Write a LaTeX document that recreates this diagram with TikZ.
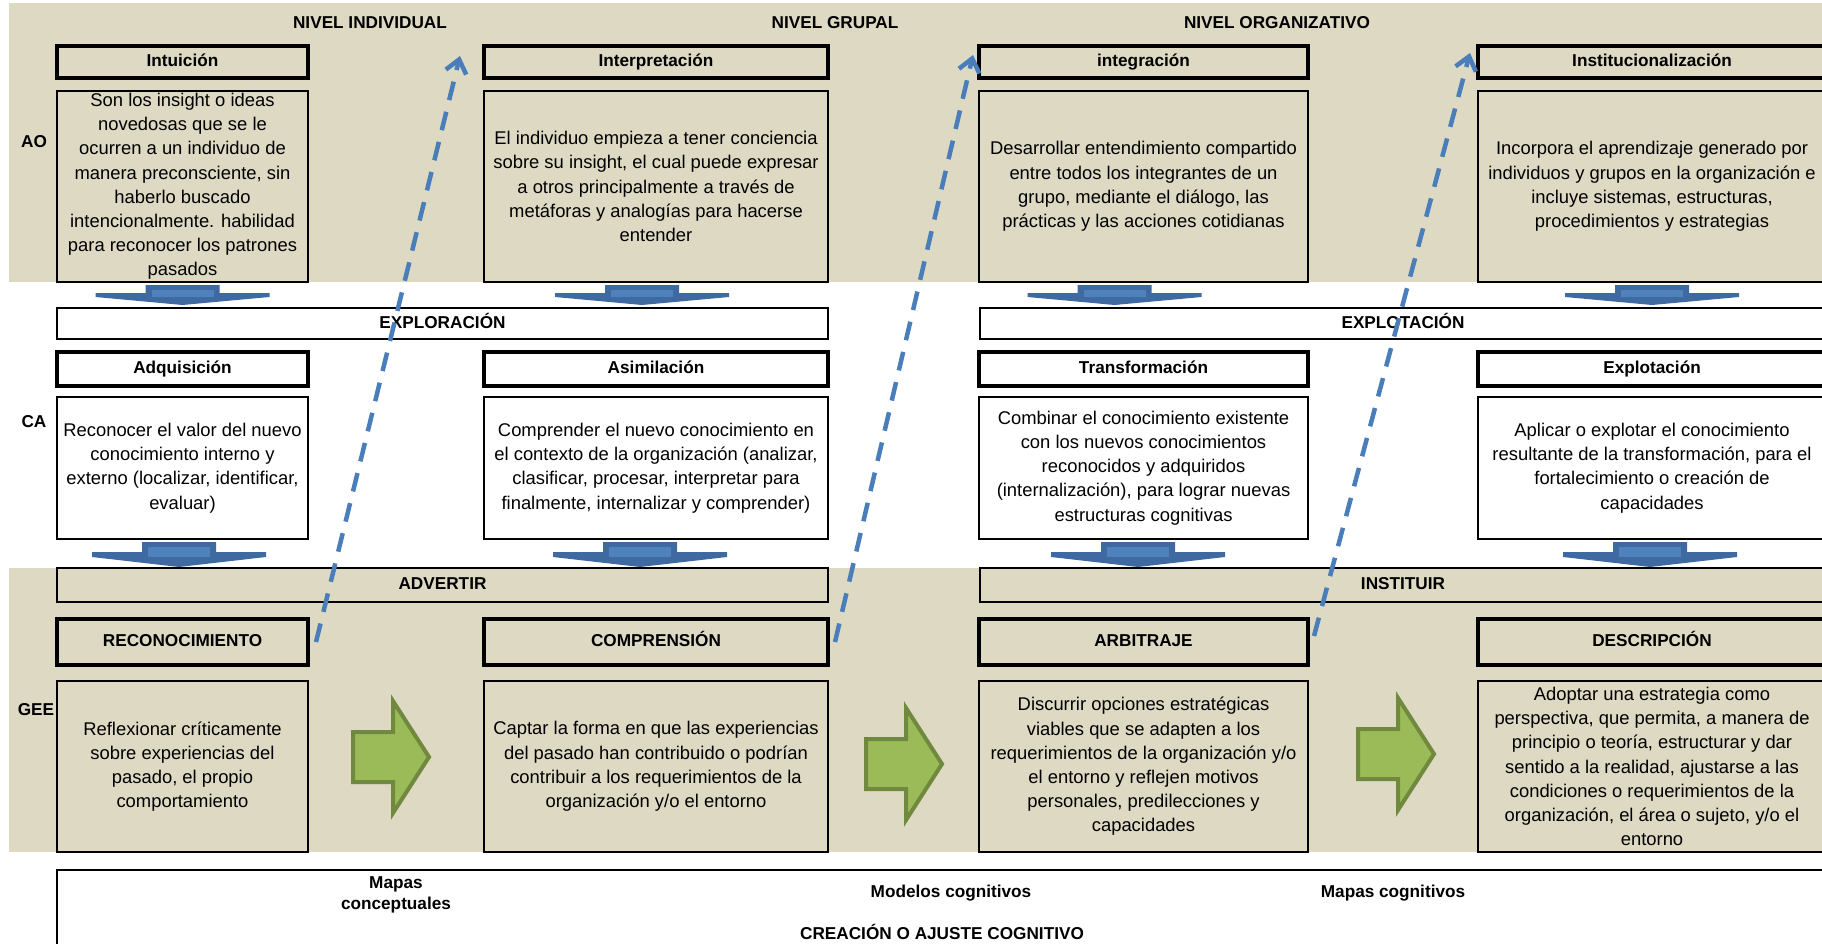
\documentclass[tikz,border=0pt]{standalone}
\usepackage{fontspec}
\setmainfont{Liberation Sans}
\usetikzlibrary{arrows.meta}

\definecolor{beige}{HTML}{DDD9C3}
\definecolor{flowblue}{HTML}{4A7EBB}
\definecolor{arrdark}{HTML}{3E6AA1}
\definecolor{arrlight}{HTML}{4F81BD}
\definecolor{greenfill}{HTML}{9BBB59}
\definecolor{greenline}{HTML}{71893F}

\newcommand{\myhdr}{\fontsize{17.2}{20.6}\selectfont\bfseries}
\newcommand{\mybody}{\fontsize{18.4}{24.2}\selectfont}

% block arrow pointing down: centre x, shaft top, wing top, wing corner, tip
\newcommand{\blockdown}[5]{%
  \fill[arrdark] (#1-37,#2) -- (#1+37,#2) -- (#1+37,#3) -- (#1+87,#3)
    -- (#1+87,#4) -- (#1,#5) -- (#1-87,#4) -- (#1-87,#3) -- (#1-37,#3) -- cycle;
  \fill[arrlight] (#1-31,#2+5) rectangle (#1+31,#4);}

% green block arrow pointing right: left x, centre y
\newcommand{\greenright}[2]{%
  \filldraw[fill=greenfill, draw=greenline, line width=4pt, line join=miter]
    (#1+2,#2-25) -- (#1+42,#2-25) -- (#1+42,#2-56) -- (#1+78,#2)
    -- (#1+42,#2+56) -- (#1+42,#2+25) -- (#1+2,#2+25) -- cycle;}

\begin{document}
\begin{tikzpicture}[x=1pt,y=-1pt,
  hdr/.style={draw, line width=3.3pt, font=\myhdr, inner sep=0pt,
    text height=12.3pt, text depth=3pt},
  body/.style={draw, line width=2pt, font=\mybody, align=center, inner sep=0pt},
  bar/.style={draw, line width=2.3pt, font=\myhdr, inner sep=0pt,
    text height=12.3pt, text depth=3pt},
  lbl/.style={font=\myhdr, inner sep=0pt, align=center},
  flow/.style={draw=flowblue, line width=4.5pt, dash pattern=on 19pt off 12pt,
    -{Straight Barb[length=13pt,width=21pt]}}]

\useasboundingbox (0,0) rectangle (1822,944);
\clip (0,0) rectangle (1822,944);

% background bands
\fill[beige] (9,3) rectangle (1830,282);
\fill[beige] (9,568) rectangle (1830,852);

% down arrows between the rows
\blockdown{182.5}{285}{293}{297}{305}
\blockdown{642}{285}{293}{297}{305}
\blockdown{1114.5}{285}{293}{297}{305}
\blockdown{1652}{285}{293}{297}{305}
\blockdown{179}{542}{552}{557}{567}
\blockdown{640}{542}{552}{557}{567}
\blockdown{1138}{542}{552}{557}{567}
\blockdown{1650}{542}{552}{557}{567}

% column titles and row labels
\node[lbl] (nind) at (370,23) {NIVEL INDIVIDUAL};
\node[lbl] (ngrp) at (835,23) {NIVEL GRUPAL};
\node[lbl] (norg) at (1277,23) {NIVEL ORGANIZATIVO};
\node[lbl] (ao) at (34,142) {AO};
\node[lbl] (ca) at (34,422) {CA};
\node[lbl] (gee) at (36,710) {GEE};

% AO row
\node[hdr, fill=beige, minimum width=251pt, minimum height=32pt] (intu) at (182.5,62) {Intuición};
\node[hdr, fill=beige, minimum width=344pt, minimum height=32pt] (inte) at (656,62) {Interpretación};
\node[hdr, fill=beige, minimum width=329pt, minimum height=32pt] (integ) at (1143.5,62) {integración};
\node[hdr, fill=beige, minimum width=348pt, minimum height=32pt] (inst) at (1652,62) {Institucionalización};

\node[body, fill=beige, minimum width=251pt, minimum height=191pt] (intuT) at (182.5,186.5)
  {Son los insight o ideas\\novedosas que se le\\ocurren a un individuo de\\manera preconsciente, sin\\haberlo buscado\\intencionalmente. habilidad\\para reconocer los patrones\\pasados};
\node[body, fill=beige, minimum width=344pt, minimum height=191pt] (inteT) at (656,186.5)
  {El individuo empieza a tener conciencia\\sobre su insight, el cual puede expresar\\a otros principalmente a través de\\metáforas y analogías para hacerse\\entender};
\node[body, fill=beige, minimum width=329pt, minimum height=191pt] (integT) at (1143.5,186.5)
  {Desarrollar entendimiento compartido\\entre todos los integrantes de un\\grupo, mediante el diálogo, las\\prácticas y las acciones cotidianas};
\node[body, fill=beige, minimum width=348pt, minimum height=191pt] (instT) at (1652,186.5)
  {Incorpora el aprendizaje generado por\\individuos y grupos en la organización e\\incluye sistemas, estructuras,\\procedimientos y estrategias};

% exploration / exploitation bars
\node[bar, fill=white, minimum width=771pt, minimum height=31pt] (explor) at (442.5,323.5) {EXPLORACIÓN};
\node[bar, fill=white, minimum width=846pt, minimum height=31pt] (explot) at (1403,323.5) {EXPLOTACIÓN};

% CA row
\node[hdr, fill=white, minimum width=251pt, minimum height=34pt] (adq) at (182.5,369) {Adquisición};
\node[hdr, fill=white, minimum width=344pt, minimum height=34pt] (asi) at (656,369) {Asimilación};
\node[hdr, fill=white, minimum width=329pt, minimum height=34pt] (tra) at (1143.5,369) {Transformación};
\node[hdr, fill=white, minimum width=348pt, minimum height=34pt] (exp) at (1652,369) {Explotación};

\node[body, fill=white, minimum width=251pt, minimum height=142pt] (adqT) at (182.5,468)
  {Reconocer el valor del nuevo\\conocimiento interno y\\externo (localizar, identificar,\\evaluar)};
\node[body, fill=white, minimum width=344pt, minimum height=142pt] (asiT) at (656,468)
  {Comprender el nuevo conocimiento en\\el contexto de la organización (analizar,\\clasificar, procesar, interpretar para\\finalmente, internalizar y comprender)};
\node[body, fill=white, minimum width=329pt, minimum height=142pt] (traT) at (1143.5,468)
  {Combinar el conocimiento existente\\con los nuevos conocimientos\\reconocidos y adquiridos\\(internalización), para lograr nuevas\\estructuras cognitivas};
\node[body, fill=white, minimum width=348pt, minimum height=142pt] (expT) at (1652,468)
  {Aplicar o explotar el conocimiento\\resultante de la transformación, para el\\fortalecimiento o creación de\\capacidades};

% advertir / instituir bars
\node[bar, fill=beige, minimum width=771pt, minimum height=34pt] (adv) at (442.5,585) {ADVERTIR};
\node[bar, fill=beige, minimum width=846pt, minimum height=34pt] (ins) at (1403,585) {INSTITUIR};

% GEE row
\node[hdr, fill=beige, minimum width=251pt, minimum height=46pt] (reco) at (182.5,642) {RECONOCIMIENTO};
\node[hdr, fill=beige, minimum width=344pt, minimum height=46pt] (comp) at (656,642) {COMPRENSIÓN};
\node[hdr, fill=beige, minimum width=329pt, minimum height=46pt] (arbi) at (1143.5,642) {ARBITRAJE};
\node[hdr, fill=beige, minimum width=348pt, minimum height=46pt] (desc) at (1652,642) {DESCRIPCIÓN};

\node[body, fill=beige, minimum width=251pt, minimum height=171pt] (recoT) at (182.5,766.5)
  {Reflexionar críticamente\\sobre experiencias del\\pasado, el propio\\comportamiento};
\node[body, fill=beige, minimum width=344pt, minimum height=171pt] (compT) at (656,766.5)
  {Captar la forma en que las experiencias\\del pasado han contribuido o podrían\\contribuir a los requerimientos de la\\organización y/o el entorno};
\node[body, fill=beige, minimum width=329pt, minimum height=171pt] (arbiT) at (1143.5,766.5)
  {Discurrir opciones estratégicas\\viables que se adapten a los\\requerimientos de la organización y/o\\el entorno y reflejen motivos\\personales, predilecciones y\\capacidades};
\node[body, fill=beige, minimum width=348pt, minimum height=171pt] (descT) at (1652,766.5)
  {Adoptar una estrategia como\\perspectiva, que permita, a manera de\\principio o teoría, estructurar y dar\\sentido a la realidad, ajustarse a las\\condiciones o requerimientos de la\\organización, el área o sujeto, y/o el\\entorno};

% green arrows between GEE boxes
\greenright{351}{757}
\greenright{864}{764}
\greenright{1356}{754}

% cognitive creation box
\node[bar, fill=white, minimum width=1773pt, minimum height=90pt] (cre) at (943.5,915) {};
\node[lbl] (mapc) at (396,895) {Mapas\\conceptuales};
\node[lbl] (mod) at (951,893) {Modelos cognitivos};
\node[lbl] (mapg) at (1393,893) {Mapas cognitivos};
\node[lbl] (creT) at (942,932) {CREACIÓN O AJUSTE COGNITIVO};

% dashed flows between levels
\coordinate (d1a) at (316,642);
\coordinate (d1b) at (460,56);
\coordinate (d2a) at (835,642);
\coordinate (d2b) at (973,55);
\coordinate (d3a) at (1314,636);
\coordinate (d3b) at (1470,53);
\draw[flow] (d1a) -- (d1b);
\draw[flow] (d2a) -- (d2b);
\draw[flow] (d3a) -- (d3b);

\end{tikzpicture}
\end{document}
